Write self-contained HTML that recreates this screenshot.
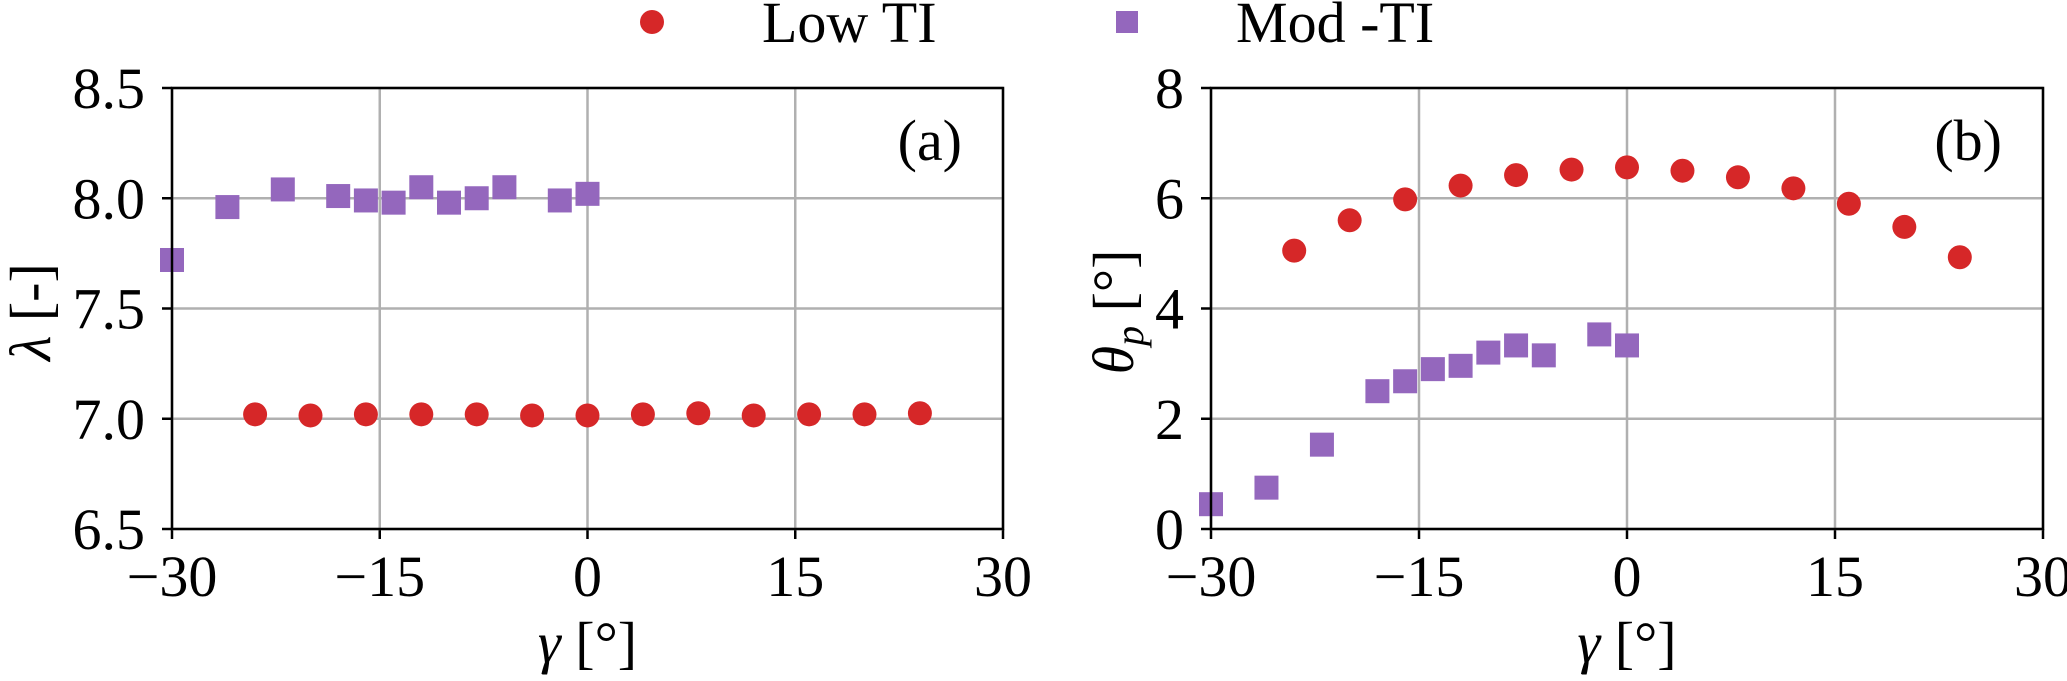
<!DOCTYPE html>
<html><head><meta charset="utf-8"><style>
html,body{margin:0;padding:0;background:#fff;}
svg{display:block;font-family:"Liberation Serif","DejaVu Serif",serif;}
</style></head><body>
<svg id="chart" width="2067" height="681" viewBox="0 0 2067 681" xmlns="http://www.w3.org/2000/svg">
<g id="legend">
 <circle cx="652" cy="22" r="12" fill="#d62728"/>
 <text x="762" y="42" font-size="58">Low TI</text>
 <rect x="1116" y="11" width="22" height="22" fill="#9467bd"/>
 <text x="1236" y="42" font-size="58">Mod -TI</text>
</g>
<g id="pa"></g>
<g id="pb"></g>
</svg>
<script>
const xTicks = [-30, -15, 0, 15, 30];
const xTickLabels = ["\u221230", "\u221215", "0", "15", "30"];
const aYTicks = [6.5, 7.0, 7.5, 8.0, 8.5];
const aYTickLabels = ["6.5", "7.0", "7.5", "8.0", "8.5"];
const bYTicks = [0, 2, 4, 6, 8];
const bYTickLabels = ["0", "2", "4", "6", "8"];

const lowX = [-24, -20, -16, -12, -8, -4, 0, 4, 8, 12, 16, 20, 24];
const aLowY = [7.02, 7.015, 7.02, 7.02, 7.02, 7.015, 7.015, 7.02, 7.025, 7.015, 7.02, 7.02, 7.025];
const bLowY = [5.05, 5.6, 5.98, 6.23, 6.42, 6.52, 6.56, 6.5, 6.38, 6.18, 5.9, 5.48, 4.93];

const modX = [-30, -26, -22, -18, -16, -14, -12, -10, -8, -6, -2, 0];
const aModY = [7.72, 7.96, 8.04, 8.01, 7.99, 7.98, 8.05, 7.98, 8.0, 8.05, 7.99, 8.02];
const bModY = [0.45, 0.75, 1.53, 2.5, 2.68, 2.9, 2.96, 3.2, 3.33, 3.15, 3.53, 3.33];

const NS = "http://www.w3.org/2000/svg";
function mk(tag, attrs, parent){const e=document.createElementNS(NS,tag);for(const k in attrs)e.setAttribute(k,attrs[k]);parent.appendChild(e);return e;}

function panel(g, left, right, yTicks, yLabels, lowY, modY, tag, ylabel, labelX){
  const top=88, bottom=529;
  const xs=v=>left+(v-(-30))/60*(right-left);
  const ys=v=>bottom-(v-yTicks[0])/(yTicks[yTicks.length-1]-yTicks[0])*(bottom-top);
  xTicks.forEach((t,i)=>{
    const x=xs(t);
    const gl=mk('line',{x1:x,x2:x,y1:top,y2:bottom,stroke:'#b0b0b0','stroke-width':2.5},g);
    
    
    const tk=mk('line',{x1:x,x2:x,y1:bottom,y2:bottom+10,stroke:'#000','stroke-width':2.5},g);
    
    
    const tl=mk('text',{x:x,y:596,'font-size':58,'text-anchor':'middle'},g);
    tl.textContent=xTickLabels[i];
    
    
  });
  yTicks.forEach((t,i)=>{
    const y=ys(t);
    const gl=mk('line',{x1:left,x2:right,y1:y,y2:y,stroke:'#b0b0b0','stroke-width':2.5},g);
    
    
    const tk=mk('line',{x1:left-10,x2:left,y1:y,y2:y,stroke:'#000','stroke-width':2.5},g);
    
    
    const tl=mk('text',{x:left-27,y:y+20,'font-size':58,'text-anchor':'end'},g);
    tl.textContent=yLabels[i];
    
    
  });
  modX.forEach((v,i)=>{
    const r=mk('rect',{x:xs(v)-12,y:ys(modY[i])-12,width:24,height:24,fill:'#9467bd'},g);
    
    
  });
  lowX.forEach((v,i)=>{
    const c=mk('circle',{cx:xs(v),cy:ys(lowY[i]),r:12,fill:'#d62728'},g);
    
    
  });
  const fr=mk('rect',{x:left,y:top,width:right-left,height:bottom-top,fill:'none',stroke:'#000','stroke-width':2.5},g);
  
  
  const pl=mk('text',{x:right-41,y:160,'font-size':58,'text-anchor':'end'},g);
  pl.textContent=tag;
  
  
  const xt=mk('text',{x:(left+right)/2,y:662,'font-size':58,'text-anchor':'middle'},g);
  xt.innerHTML='<tspan font-style="italic">\u03b3</tspan> [\u00b0]';
  
  
  const yt=mk('text',{x:0,y:0,'font-size':58,'text-anchor':'middle',transform:'translate('+labelX+',312) rotate(-90)'},g);
  yt.innerHTML=ylabel;
  
  
}
panel(document.getElementById('pa'),172,1003,aYTicks,aYTickLabels,aLowY,aModY,'(a)','<tspan font-style="italic">\u03bb</tspan> [-]',50);
panel(document.getElementById('pb'),1211,2043,bYTicks,bYTickLabels,bLowY,bModY,'(b)','<tspan font-style="italic">\u03b8</tspan><tspan font-style="italic" font-size="40" dy="10">p</tspan><tspan dy="-10"> [\u00b0]</tspan>',1133);
</script>
</body></html>
